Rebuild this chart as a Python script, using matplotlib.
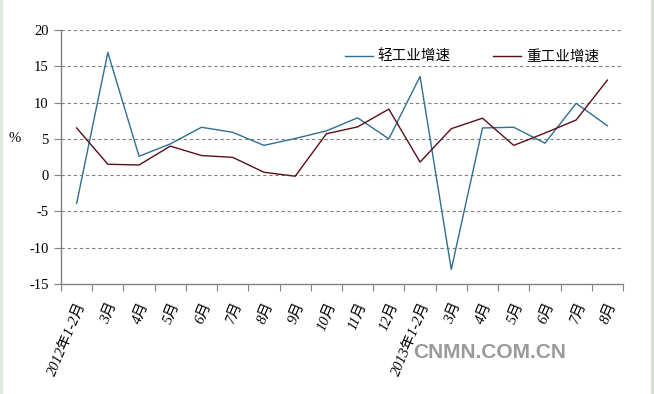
import matplotlib
matplotlib.use("Agg")
import matplotlib.pyplot as plt
from matplotlib.patches import Rectangle

categories = ["2012年1-2月", "3月", "4月", "5月", "6月", "7月", "8月", "9月", "10月",
              "11月", "12月", "2013年1-2月", "3月", "4月", "5月", "6月", "7月", "8月"]
light = [-3.9, 16.9, 2.6, 4.3, 6.6, 5.9, 4.1, 5.05, 6.1, 7.9, 5.0, 13.6,
         -13.0, 6.5, 6.6, 4.4, 9.9, 6.8]
heavy = [6.5, 1.5, 1.4, 4.0, 2.7, 2.45, 0.4, -0.15, 5.7, 6.65, 9.1, 1.8,
         6.4, 7.85, 4.1, 5.8, 7.6, 13.1]
yticks = [-15, -10, -5, 0, 5, 10, 15, 20]

W, H = 654, 394
fig = plt.figure(figsize=(W / 100, H / 100), dpi=100)
fig.patch.set_facecolor("white")
# light green border strips
fig.add_artist(Rectangle((651 / W, 0), 3 / W, 1, transform=fig.transFigure,
                         color="#d3e3d3", zorder=0))
fig.add_artist(Rectangle((0, 0), 2 / W, 1, transform=fig.transFigure,
                         color="#dfeae0", zorder=0))

ax = fig.add_axes([61 / W, 1 - 284 / H, (623 - 61) / W, (284 - 30) / H])
x = list(range(len(categories)))
ax.plot(x, light, color="#2f6f93", lw=1.0, label="轻工业增速")
ax.plot(x, heavy, color="#5a0f18", lw=1.0, label="重工业增速")

ax.set_xlim(-0.5, len(categories) - 0.5)
ax.set_ylim(-15, 20)
ax.set_yticks(yticks)
ax.set_yticklabels([str(v) for v in yticks], family=["Liberation Serif"], fontsize=10.5)
for v in yticks[1:]:
    ax.axhline(v, color="#808080", lw=0.8, ls=(0, (3, 2.5)), zorder=0)

ax.set_xticks([i - 0.5 for i in range(len(categories) + 1)])
ax.set_xticklabels([])
ax.set_xticks(x, minor=True)
ax.set_xticklabels(categories, minor=True, rotation=67, ha="right", va="top",
                   rotation_mode="anchor",
                   family=["Liberation Serif", "Noto Sans CJK SC"], fontsize=10.5,
                   style="italic")
ax.tick_params(axis="x", which="minor", length=0, pad=12)
ax.tick_params(axis="x", which="major", length=5, color="#808080", direction="out")
ax.tick_params(axis="y", length=5, color="#808080", direction="out", pad=4)

for s in ["top", "right"]:
    ax.spines[s].set_visible(False)
for s in ["left", "bottom"]:
    ax.spines[s].set_color("#808080")
    ax.spines[s].set_linewidth(1.0)

fig.text(15 / W, 1 - 138 / H, "%", family=["Liberation Serif"], fontsize=10.5,
         ha="center", va="center")

leg = ax.legend(loc="center left", bbox_to_anchor=(345 / W, 1 - 57 / H),
                bbox_transform=fig.transFigure, ncol=2, frameon=False,
                prop={"family": ["Noto Sans CJK SC"], "size": 10.5},
                handlelength=1.9, columnspacing=2.9, handletextpad=0.35,
                borderpad=0, borderaxespad=0)

fig.text(490 / W, 1 - 352 / H, "CNMN.COM.CN", family=["Liberation Sans"],
         fontsize=15, fontweight="bold", color="#9a9a9a", ha="center", va="center")

fig.savefig("out.png", dpi=100, facecolor="white")
